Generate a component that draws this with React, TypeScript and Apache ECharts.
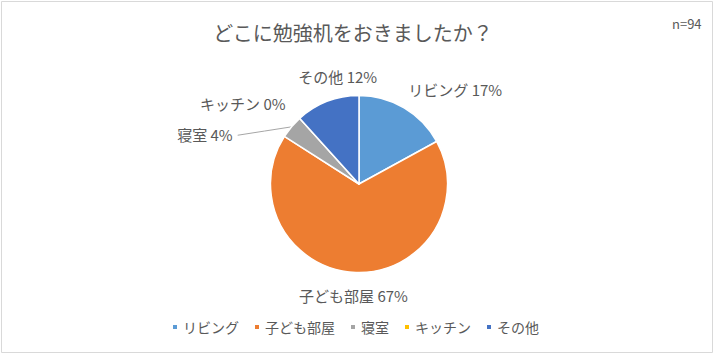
import React, { useEffect, useRef } from "react";
import * as echarts from "echarts";

const titleText = "どこに勉強机をおきましたか？";
const noteText = "n=94";
const categories = ["リビング", "子ども部屋", "寝室", "キッチン", "その他"];
const counts = [16, 63, 4, 0, 11];
const percentLabels = ["17%", "67%", "4%", "0%", "12%"];
const colors = ["#5B9BD5", "#ED7D31", "#A5A5A5", "#FFC000", "#4472C4"];

const PIE_CX = 359;
const PIE_CY = 184;
const PIE_R = 88.5;

// label nudges (dx, dy, align) relative to ECharts' own outside placement
const labelNudges: { dx: number; dy: number; align?: string; guide?: boolean }[] = [
  { dx: -10, dy: -3 },
  { dx: 3, dy: 5, align: "center" },
  { dx: -40, dy: 19, guide: true },
  { dx: 3, dy: -2 },
  { dx: 22, dy: -8, align: "center" },
];

const FONT = '"Noto Sans CJK JP", "Noto Sans", sans-serif';
const TEXT = "#595959";

function midAnglePoint(index: number) {
  const total = counts.reduce((a, b) => a + b, 0);
  let before = 0;
  for (let i = 0; i < index; i++) before += counts[i];
  const mid = ((before + counts[index] / 2) / total) * Math.PI * 2;
  return [PIE_CX + PIE_R * Math.sin(mid), PIE_CY - PIE_R * Math.cos(mid)];
}

export default function App() {
  const ref = useRef<HTMLDivElement>(null);
  useEffect(() => {
    if (!ref.current) return;
    const chart = echarts.init(ref.current, undefined, { renderer: "svg" });
    chart.setOption({
      animation: false,
      backgroundColor: "#ffffff",
      textStyle: { fontFamily: FONT },
      title: {
        text: titleText,
        left: 353,
        textAlign: "center",
        top: 22,
        padding: 0,
        textStyle: { fontFamily: FONT, fontSize: 20, fontWeight: "normal", color: TEXT },
      },
      graphic: [
        {
          type: "rect",
          shape: { x: 1.5, y: 1.5, width: 711, height: 351 },
          style: { fill: "none", stroke: "#d9d9d9", lineWidth: 1 },
          silent: true,
        },
        {
          type: "text",
          x: 672,
          y: 23,
          style: {
            text: noteText,
            fontFamily: FONT,
            fontSize: 13,
            fill: TEXT,
            verticalAlign: "middle",
          },
        },
      ],
      legend: {
        data: categories,
        left: 166,
        top: 315,
        itemWidth: 6,
        itemHeight: 6,
        itemGap: 14,
        icon: "rect",
        textStyle: { fontFamily: FONT, fontSize: 14, color: TEXT },
      },
      series: [
        {
          type: "pie",
          center: [PIE_CX, PIE_CY],
          radius: PIE_R,
          startAngle: 90,
          clockwise: true,
          avoidLabelOverlap: false,
          itemStyle: { borderColor: "#ffffff", borderWidth: 1.5 },
          label: {
            show: true,
            position: "outside",
            fontFamily: FONT,
            fontSize: 15,
            color: TEXT,
            formatter: (p: any) => `${p.name} ${percentLabels[p.dataIndex]}`,
          },
          labelLine: {
            show: false,
            length: 18,
            length2: 0,
            lineStyle: { color: "#a6a6a6", width: 1 },
          },
          labelLayout: (p: any) => {
            const n = labelNudges[p.dataIndex];
            const o: any = { dx: n.dx, dy: n.dy };
            if (n.align) o.align = n.align;
            if (n.guide && p.labelRect) {
              const r = p.labelRect;
              const end = [r.x + r.width + n.dx + 5, r.y + r.height / 2 + n.dy + 1];
              const start = midAnglePoint(p.dataIndex);
              o.labelLinePoints = [
                start,
                [(start[0] + end[0]) / 2, (start[1] + end[1]) / 2],
                end,
              ];
            }
            return o;
          },
          emphasis: { disabled: true },
          data: categories.map((name, i) => ({
            name,
            value: counts[i],
            itemStyle: { color: colors[i] },
            labelLine: i === 2 ? { show: true } : { show: false },
          })),
        },
      ],
    });
    return () => chart.dispose();
  }, []);
  return (
    <div
      ref={ref}
      style={{ position: "fixed", left: 0, top: 0, width: 720, height: 357, background: "#fff" }}
    />
  );
}
